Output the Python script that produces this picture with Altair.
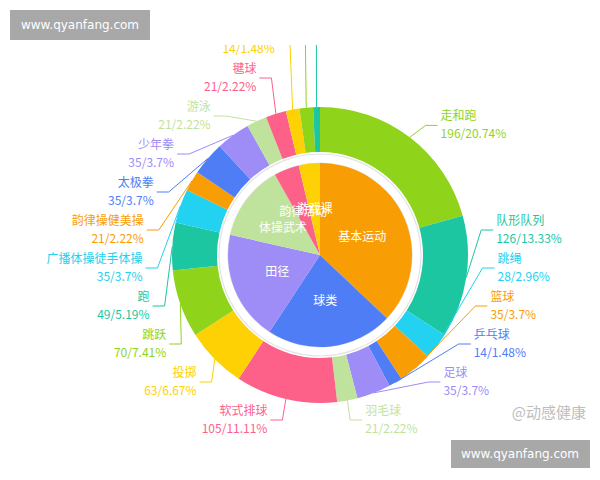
import altair as alt
import pandas as pd
import numpy as np

# ---------------- data ----------------
outer_names = ["走和跑", "队形队列", "跳绳", "篮球", "乒乓球", "足球", "羽毛球",
               "软式排球", "投掷", "跳跃", "跑", "广播体操徒手体操", "韵律操健美操",
               "太极拳", "少年拳", "游泳", "毽球", "体育游戏", "民族体育", "其他"]
outer_values = [196, 126, 28, 35, 14, 35, 21, 105, 63, 70, 49, 35, 21, 35, 35,
                21, 21, 14, 14, 7]
inner_names = ["基本运动", "球类", "田径", "体操武术", "韵律活动", "游戏课"]
inner_values = [350, 210, 182, 126, 42, 35]

palette = ["#8fd41a", "#1cc6a0", "#22d2f0", "#f99d05", "#4f7df6",
           "#9e8cf7", "#bfe39c", "#fd618a", "#fdd104"]
inner_colors = ["#f99d05", "#4f7df6", "#9e8cf7", "#bfe39c", "#fd618a", "#fdd104"]

# ---------------- layout constants ----------------
W, H, TOP = 600, 480, 45
CX, CY = 320, 255
R_PIE, R_IN, R_OUT = 92, 103, 148
LEN1, LEN2 = 15, 12
GAP, BOTTOM = 38, 420
FONT = "Noto Sans CJK SC"

total = sum(outer_values)
n = len(outer_values)
outer_colors = [palette[i % len(palette)] for i in range(n)]
pct = [f"{round(v / total * 100, 2):g}%" for v in outer_values]

# label placement (pie label-line layout, derived from the values)
cum = np.concatenate([[0], np.cumsum(outer_values)])
ang = (cum[:-1] + cum[1:]) / 2 / total * 2 * np.pi
sx, sy = np.sin(ang), -np.cos(ang)
side = np.where(sx >= 0, 1, -1)
x1 = CX + R_OUT * sx
y1 = CY + R_OUT * sy
ly = CY + (R_OUT + LEN1) * sy
lx = CX + (R_OUT + LEN1) * sx + side * LEN2
reach = R_OUT + LEN1 + LEN2
for d in (1, -1):
    ids = sorted([i for i in range(n) if side[i] == d], key=lambda i: ly[i])
    yy = [ly[i] for i in ids]
    for k in range(1, len(yy)):
        yy[k] = max(yy[k], yy[k - 1] + GAP)
    if yy and yy[-1] > BOTTOM:
        yy[-1] = BOTTOM
        for k in range(len(yy) - 2, -1, -1):
            yy[k] = min(yy[k], yy[k + 1] - GAP)
    for i, v in zip(ids, yy):
        ly[i] = v
    up = [i for i in ids if ly[i] < CY]
    down = [i for i in ids if ly[i] >= CY]
    last = 0.0
    for i in up:
        dy = abs(ly[i] - CY)
        dx = np.sqrt(reach ** 2 - dy ** 2) if dy < R_OUT + LEN1 else abs(lx[i] - CX)
        if dx <= last:
            dx = last + 10
        lx[i] = CX + d * dx
        last = dx
    last = 1e9
    for i in down:
        dy = abs(ly[i] - CY)
        dx = np.sqrt(reach ** 2 - dy ** 2) if dy < R_OUT + LEN1 else abs(lx[i] - CX)
        if dx >= last:
            dx = last - 10
        lx[i] = CX + d * dx
        last = dx

df_outer = pd.DataFrame({"idx": range(n), "name": outer_names, "value": outer_values,
                         "color": outer_colors})
df_inner = pd.DataFrame({"idx": range(len(inner_names)), "name": inner_names,
                         "value": inner_values, "color": inner_colors})

line_rows = []
text_rows = []
for i in range(n):
    d = side[i]
    pts = [(x1[i], y1[i]), (lx[i] - d * LEN2, ly[i]), (lx[i], ly[i])]
    for k, (px, py) in enumerate(pts):
        line_rows.append({"idx": i, "pt": k, "x": px, "y": py, "color": outer_colors[i]})
    text_rows.append({"x": lx[i] + d * 3, "y": ly[i] - 9, "t": outer_names[i],
                      "color": outer_colors[i], "side": int(d)})
    text_rows.append({"x": lx[i] + d * 3, "y": ly[i] + 9,
                      "t": f"{outer_values[i]}/{pct[i]}", "color": outer_colors[i],
                      "side": int(d)})
df_lines = pd.DataFrame(line_rows)
df_text = pd.DataFrame(text_rows)

xs = alt.Scale(domain=[0, W], nice=False, zero=False)
ys = alt.Scale(domain=[TOP, H], nice=False, zero=False, reverse=True)
cx_v = alt.value(CX)
cy_v = alt.value(CY - TOP)

outer = alt.Chart(df_outer).mark_arc(radius=R_OUT, radius2=R_IN).encode(
    theta=alt.Theta("value:Q", stack=True),
    order=alt.Order("idx:Q"),
    color=alt.Color("color:N", scale=None),
    x=cx_v, y=cy_v,
)
halo = alt.Chart(pd.DataFrame({"v": [1]})).mark_arc(
    radius=R_IN - 2, radius2=R_PIE, theta=0, theta2=6.2832,
    color="#ffffff", stroke="#e3e3e3", strokeWidth=1.2
).encode(x=cx_v, y=cy_v)
inner = alt.Chart(df_inner).mark_arc(radius=R_PIE).encode(
    theta=alt.Theta("value:Q", stack=True),
    order=alt.Order("idx:Q"),
    color=alt.Color("color:N", scale=None),
    x=cx_v, y=cy_v,
)
inner_text = alt.Chart(df_inner).mark_text(
    radius=R_PIE * 0.5, color="white", font=FONT, fontSize=12
).encode(
    theta=alt.Theta("value:Q", stack=True),
    order=alt.Order("idx:Q"),
    text="name:N",
    x=cx_v, y=cy_v,
)
lines = alt.Chart(df_lines).mark_line(strokeWidth=1, clip=True).encode(
    x=alt.X("x:Q", scale=xs, axis=None),
    y=alt.Y("y:Q", scale=ys, axis=None),
    detail="idx:N",
    order="pt:Q",
    color=alt.Color("color:N", scale=None),
)
txt_r = alt.Chart(df_text[df_text.side == 1]).mark_text(
    align="left", baseline="middle", font=FONT, fontSize=12, clip=True
).encode(
    x=alt.X("x:Q", scale=xs, axis=None),
    y=alt.Y("y:Q", scale=ys, axis=None),
    text="t:N",
    color=alt.Color("color:N", scale=None),
)
txt_l = alt.Chart(df_text[df_text.side == -1]).mark_text(
    align="right", baseline="middle", font=FONT, fontSize=12, clip=True
).encode(
    x=alt.X("x:Q", scale=xs, axis=None),
    y=alt.Y("y:Q", scale=ys, axis=None),
    text="t:N",
    color=alt.Color("color:N", scale=None),
)

one = pd.DataFrame({"v": [1]})
wm1 = alt.Chart(one).mark_rect(color="#a8a8a8").encode(
    x=alt.value(10), x2=alt.value(150), y=alt.value(10 - TOP), y2=alt.value(40 - TOP))
wm1t = alt.Chart(one).mark_text(color="white", font="DejaVu Sans", fontSize=12,
                                align="center", baseline="middle").encode(
    x=alt.value(80), y=alt.value(25 - TOP), text=alt.value("www.qyanfang.com"))
wm2 = alt.Chart(one).mark_rect(color="#a8a8a8").encode(
    x=alt.value(451), x2=alt.value(590), y=alt.value(440 - TOP), y2=alt.value(468 - TOP))
wm2t = alt.Chart(one).mark_text(color="white", font="DejaVu Sans", fontSize=12,
                                align="center", baseline="middle").encode(
    x=alt.value(520), y=alt.value(454 - TOP), text=alt.value("www.qyanfang.com"))
wm3 = alt.Chart(one).mark_text(color="#bdbdbd", font=FONT, fontSize=15,
                               align="right", baseline="middle").encode(
    x=alt.value(586), y=alt.value(413 - TOP), text=alt.value("@动感健康"))

chart = alt.layer(
    outer, halo, inner, inner_text, lines, txt_r, txt_l, wm1, wm1t, wm2, wm2t, wm3
).resolve_scale(theta="shared").properties(
    width=W, height=H - TOP,
    padding={"left": 0, "top": TOP, "right": 0, "bottom": 0},
    autosize=alt.AutoSizeParams(type="none"),
    background="white",
).configure_view(stroke=None)

chart.save("out.html", embed_options={"renderer": "svg", "actions": False})
